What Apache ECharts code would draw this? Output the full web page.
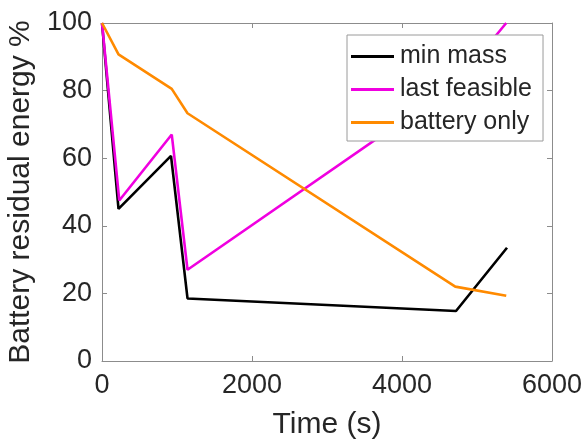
<!DOCTYPE html>
<html>
<head>
<meta charset="utf-8">
<script src="https://cdn.jsdelivr.net/npm/echarts@6/dist/echarts.min.js"></script>
<style>
  html, body { margin: 0; padding: 0; background: #fff; }
  #box { width: 585px; height: 442px; }
</style>
</head>
<body>
<div id="box"></div>
<script>
  // values (time in s, energy in %)
  const minMassTime = [0, 220, 920, 1140, 4720, 5400];
  const minMassEnergy = [100, 45, 60.7, 18.5, 14.8, 33.5];
  const lastFeasibleTime = [0, 230, 930, 1140, 4720, 5390];
  const lastFeasibleEnergy = [100, 47.5, 67, 27, 82, 100];
  const batteryOnlyTime = [0, 220, 930, 1140, 4710, 5390];
  const batteryOnlyEnergy = [100, 90.7, 80.5, 73.3, 22, 19.3];
  const xTicks = [0, 2000, 4000, 6000];
  const yTicks = [0, 20, 40, 60, 80, 100];

  const font = '"Liberation Sans", Arial, sans-serif';
  const textColor = '#262626';
  const axisColor = '#8c8c8c';

  const pairs = (xs, ys) => xs.map((x, i) => [x, ys[i]]);

  const line = (name, xs, ys, color) => ({
    name,
    type: 'line',
    data: pairs(xs, ys),
    symbol: 'none',
    lineStyle: { color, width: 2.6 },
    itemStyle: { color },
    clip: true,
    animation: false,
  });

  const boxTicks = { show: true, inside: true, length: 5, lineStyle: { color: axisColor, width: 1 } };

  const chart = echarts.init(document.getElementById('box'));
  chart.setOption({
    backgroundColor: '#fff',
    grid: { left: 102, right: 33, top: 23, bottom: 81, outerBoundsMode: 'none', containLabel: false },
    xAxis: [
      {
        type: 'value',
        min: xTicks[0],
        max: xTicks[xTicks.length - 1],
        interval: 2000,
        name: 'Time (s)',
        nameLocation: 'middle',
        nameGap: 49,
        nameTextStyle: { fontFamily: font, fontSize: 30, color: textColor },
        axisLine: { lineStyle: { color: axisColor, width: 1 } },
        axisTick: boxTicks,
        axisLabel: { fontFamily: font, fontSize: 27, color: textColor, margin: 11, formatter: (v) => String(v) },
        splitLine: { show: false },
      },
      {
        type: 'value',
        position: 'top',
        min: xTicks[0],
        max: xTicks[xTicks.length - 1],
        interval: 2000,
        axisLine: { show: true, onZero: false, lineStyle: { color: axisColor, width: 1 } },
        axisTick: boxTicks,
        axisLabel: { show: false },
        splitLine: { show: false },
      },
    ],
    yAxis: [
      {
        type: 'value',
        min: yTicks[0],
        max: yTicks[yTicks.length - 1],
        interval: 20,
        name: 'Battery residual energy %',
        nameLocation: 'middle',
        nameGap: 66,
        nameTextStyle: { fontFamily: font, fontSize: 30, color: textColor },
        axisLine: { show: true, lineStyle: { color: axisColor, width: 1 } },
        axisTick: boxTicks,
        axisLabel: { fontFamily: font, fontSize: 27, color: textColor, margin: 10 },
        splitLine: { show: false },
      },
      {
        type: 'value',
        position: 'right',
        min: yTicks[0],
        max: yTicks[yTicks.length - 1],
        interval: 20,
        axisLine: { show: true, onZero: false, lineStyle: { color: axisColor, width: 1 } },
        axisTick: boxTicks,
        axisLabel: { show: false },
        splitLine: { show: false },
      },
    ],
    legend: {
      orient: 'vertical',
      left: 347,
      top: 35,
      icon: 'rect',
      itemWidth: 43,
      itemHeight: 3,
      itemGap: 8,
      padding: [9, 11, 6, 4],
      borderColor: '#9a9a9a',
      borderWidth: 1,
      backgroundColor: '#fff',
      textStyle: { fontFamily: font, fontSize: 25, color: textColor, padding: [0, 0, 0, 1] },
      data: ['min mass', 'last feasible', 'battery only'],
    },
    series: [
      line('min mass', minMassTime, minMassEnergy, '#000000'),
      line('last feasible', lastFeasibleTime, lastFeasibleEnergy, '#f000e0'),
      line('battery only', batteryOnlyTime, batteryOnlyEnergy, '#ff8a00'),
    ],
  });
</script>
</body>
</html>
